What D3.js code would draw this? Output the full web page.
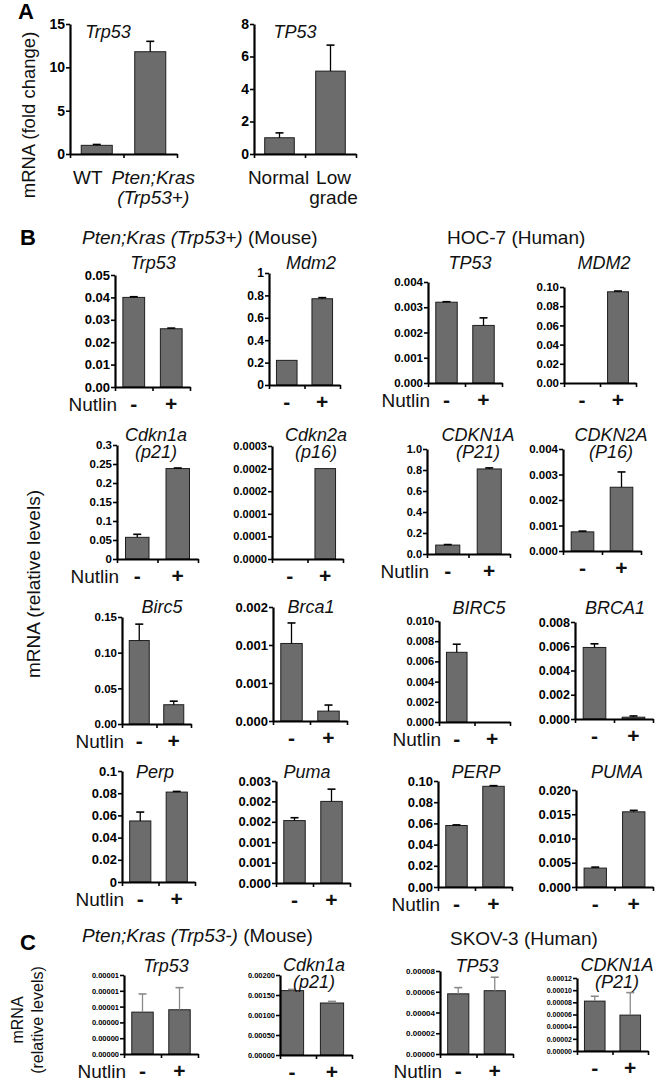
<!DOCTYPE html>
<html>
<head>
<meta charset="utf-8">
<script src="https://cdn.jsdelivr.net/npm/d3@7"></script>
<style>
  body { margin: 0; background: #ffffff; }
  svg { font-family: "Liberation Sans", Arial, sans-serif; }
  .axis path.domain { stroke: #000; stroke-width: 2.2px; }
  .axis .tick line { stroke: #000; stroke-width: 1.6px; }
  .axis text { font-weight: bold; fill: #000; }
  .bar { fill: #6c6c6c; stroke: #1e1e1e; stroke-width: 1px; }
  .title { font-style: italic; fill: #111; }
  .label { fill: #111; }
</style>
</head>
<body>
<div id="chart"></div>
<script>
// ---- panel A data ----
const aGenes = ['Trp53', 'TP53'];
const aGroups = [['WT', 'Pten;Kras|(Trp53+)'], ['Normal', 'Low|grade']];
const aMeans = [[1.0, 11.8], [1.0, 5.1]];
const aErrors = [[0.1, 1.2], [0.3, 1.6]];
const aTicks = [[0, 5, 10, 15], [0, 2, 4, 6, 8]];
const aTickLabels = [['0', '5', '10', '15'], ['0', '2', '4', '6', '8']];

// ---- panel B + C data (Nutlin -, +) ----
const treatments = ['-', '+'];
const genes = [
  'Trp53', 'Mdm2', 'TP53', 'MDM2',
  'Cdkn1a|(p21)', 'Cdkn2a|(p16)', 'CDKN1A|(P21)', 'CDKN2A|(P16)',
  'Birc5', 'Brca1', 'BIRC5', 'BRCA1',
  'Perp', 'Puma', 'PERP', 'PUMA',
  'Trp53', 'Cdkn1a|(p21)', 'TP53', 'CDKN1A|(P21)'
];
const means = [
  [0.0400, 0.0260], [0.22, 0.77], [0.00320, 0.00228], [0, 0.095],
  [0.057, 0.238], [0, 0.00020], [0.085, 0.81], [0.00075, 0.0025],
  [0.117, 0.027], [0.00102, 0.00013], [0.0069, 0], [0.0059, 0.00015],
  [0.055, 0.081], [0.00153, 0.00200], [0.058, 0.095], [0.0039, 0.0155],
  [0.0000053, 0.0000056], [0.00161, 0.00130], [0.000058, 0.000061], [0.000082, 0.000059]
];
const errors = [
  [0.0003, 0.0003], [0, 0.01], [0.00002, 0.0003], [0, 0.0008],
  [0.008, 0.0015], [0, 0], [0.005, 0.01], [0.00003, 0.0006],
  [0.023, 0.005], [0.00027, 0.00008], [0.0008, 0], [0.0003, 0.0001],
  [0.008, 0.0006], [0.00007, 0.0003], [0.0006, 0.0006], [0.0002, 0.0003],
  [0.0000023, 0.0000028], [0.00003, 0.00004], [0.000006, 0.000013], [0.000008, 0.000037]
];
const tickValues = [
  [0, 0.01, 0.02, 0.03, 0.04, 0.05], [0, 0.2, 0.4, 0.6, 0.8, 1], [0, 0.001, 0.002, 0.003, 0.004], [0, 0.02, 0.04, 0.06, 0.08, 0.10],
  [0, 0.05, 0.1, 0.15, 0.2, 0.25, 0.3], [0, 0.00005, 0.0001, 0.00015, 0.0002, 0.00025], [0, 0.2, 0.4, 0.6, 0.8, 1.0], [0, 0.001, 0.002, 0.003, 0.004],
  [0, 0.05, 0.10, 0.15], [0, 0.0005, 0.001, 0.0015], [0, 0.002, 0.004, 0.006, 0.008, 0.010], [0, 0.002, 0.004, 0.006, 0.008],
  [0, 0.02, 0.04, 0.06, 0.08, 0.1], [0, 0.0005, 0.001, 0.0015, 0.002, 0.0025], [0, 0.02, 0.04, 0.06, 0.08, 0.10], [0, 0.005, 0.010, 0.015, 0.020],
  [0, 0.000002, 0.000004, 0.000006, 0.000008, 0.00001], [0, 0.0005, 0.001, 0.0015, 0.002], [0, 0.00002, 0.00004, 0.00006, 0.00008], [0, 0.00002, 0.00004, 0.00006, 0.00008, 0.0001, 0.00012]
];
const tickLabels = [
  ['0.00', '0.01', '0.02', '0.03', '0.04', '0.05'], ['0', '0.2', '0.4', '0.6', '0.8', '1'], ['0.000', '0.001', '0.002', '0.003', '0.004'], ['0.00', '0.02', '0.04', '0.06', '0.08', '0.10'],
  ['0', '0.05', '0.1', '0.15', '0.2', '0.25', '0.3'], ['0.0000', '0.0001', '0.0001', '0.0002', '0.0002', '0.0003'], ['0.0', '0.2', '0.4', '0.6', '0.8', '1.0'], ['0.000', '0.001', '0.002', '0.003', '0.004'],
  ['0.00', '0.05', '0.10', '0.15'], ['0.000', '0.001', '0.001', '0.002'], ['0.000', '0.002', '0.004', '0.006', '0.008', '0.010'], ['0.000', '0.002', '0.004', '0.006', '0.008'],
  ['0', '0.02', '0.04', '0.06', '0.08', '0.1'], ['0.000', '0.001', '0.001', '0.002', '0.002', '0.003'], ['0.00', '0.02', '0.04', '0.06', '0.08', '0.10'], ['0.000', '0.005', '0.010', '0.015', '0.020'],
  ['0.00000', '0.00000', '0.00000', '0.00001', '0.00001', '0.00001'], ['0.00000', '0.00050', '0.00100', '0.00150', '0.00200'], ['0.00000', '0.00002', '0.00004', '0.00006', '0.00008'], ['0.00000', '0.00002', '0.00004', '0.00006', '0.00008', '0.00010', '0.00012']
];

const panelLetters = ['A', 'B', 'C'];
const groupHeaders = [['Pten;Kras (Trp53+)', ' (Mouse)'], ['', 'HOC-7 (Human)'], ['Pten;Kras (Trp53-)', ' (Mouse)'], ['', 'SKOV-3 (Human)']];
const treatmentName = 'Nutlin';

// ---- layout (pixel placement of each small chart) ----
const aLayout = [
  { x0: 70, x1: 177, yTop: 24, yBase: 154, tx: 108, ty: 32, fs: 14, italic: [false, true], dx: [-9, 3] },
  { x0: 254, x1: 356, yTop: 24, yBase: 154, tx: 295, ty: 32, fs: 14, italic: [false, false], dx: [-1, 3] }
];
const layout = [
  { x0: 115, x1: 190, yTop: 275, yBase: 387, tx: 153, ty: 263, fs: 13, nutlin: true },
  { x0: 269, x1: 340, yTop: 273, yBase: 385, tx: 311, ty: 263, fs: 12 },
  { x0: 428, x1: 502, yTop: 282, yBase: 383, tx: 470, ty: 263, fs: 11.5, nutlin: true },
  { x0: 564, x1: 636, yTop: 287, yBase: 383, tx: 604, ty: 263, fs: 11.5 },

  { x0: 117, x1: 198, yTop: 445, yBase: 559, tx: 156, ty: 435, fs: 11.5, nutlin: true },
  { x0: 272, x1: 343, yTop: 446, yBase: 559, tx: 316, ty: 435, fs: 11 },
  { x0: 427, x1: 510, yTop: 449, yBase: 554, tx: 478, ty: 435, fs: 11, nutlin: true },
  { x0: 563, x1: 641, yTop: 449, yBase: 551, tx: 611, ty: 435, fs: 11.5 },

  { x0: 122, x1: 191, yTop: 617, yBase: 724, tx: 162, ty: 607, fs: 11.5, nutlin: true },
  { x0: 273, x1: 347, yTop: 607, yBase: 721, tx: 311, ty: 607, fs: 13 },
  { x0: 439, x1: 510, yTop: 621, yBase: 722, tx: 479, ty: 608, fs: 11, nutlin: true },
  { x0: 575, x1: 653, yTop: 622, yBase: 719, tx: 615, ty: 608, fs: 12.5 },

  { x0: 122, x1: 195, yTop: 771, yBase: 882, tx: 155, ty: 772, fs: 13, nutlin: true },
  { x0: 276, x1: 350, yTop: 781, yBase: 883, tx: 307, ty: 772, fs: 13 },
  { x0: 438, x1: 512, yTop: 781, yBase: 887, tx: 476, ty: 772, fs: 13, nutlin: true },
  { x0: 576, x1: 653, yTop: 790, yBase: 887, tx: 617, ty: 772, fs: 13 },

  { x0: 124, x1: 198, yTop: 975, yBase: 1054, tx: 166, ty: 966, fs: 7.5, nutlin: true, err: '#8a8a8a' },
  { x0: 280, x1: 352, b0: 272, yTop: 975, yBase: 1055, tx: 314, ty: 965, fs: 7.5, err: '#8a8a8a' },
  { x0: 440, x1: 513, yTop: 971, yBase: 1054, tx: 477, ty: 966, fs: 8, nutlin: true, err: '#8a8a8a' },
  { x0: 577, x1: 648, yTop: 978, yBase: 1051, tx: 617, ty: 965, fs: 7, err: '#8a8a8a' }
];

const svg = d3.select('#chart')
  .append('svg')
  .attr('width', 660)
  .attr('height', 1090);

svg.append('rect').attr('width', 660).attr('height', 1090).attr('fill', '#ffffff');

// one small bar chart with upward error bars and its axes
function drawChart(L, vals, errs, ticks, labels, title) {
  const xBand = d3.scaleBand()
    .domain([0, 1])
    .range([L.b0 !== undefined ? L.b0 : L.x0, L.x1])
    .paddingInner(0.42)
    .paddingOuter(0.21);
  const yScale = d3.scaleLinear().domain([0, ticks[ticks.length - 1]]).range([L.yBase, L.yTop]);
  const g = svg.append('g');

  // bars (a zero value draws nothing)
  g.selectAll('rect.bar')
    .data(vals.map((v, i) => ({ v, i })).filter(d => d.v > 0))
    .enter()
    .append('rect')
    .attr('class', 'bar')
    .attr('x', d => xBand(d.i))
    .attr('y', d => yScale(d.v))
    .attr('width', xBand.bandwidth())
    .attr('height', d => L.yBase - yScale(d.v));

  // error bars, upper side only
  vals.forEach((v, i) => {
    if (!errs[i]) return;
    const cx = xBand(i) + xBand.bandwidth() / 2;
    const top = yScale(v + errs[i]);
    const col = L.err || '#000';
    g.append('line').attr('x1', cx).attr('x2', cx).attr('y1', yScale(v)).attr('y2', top)
      .attr('stroke', col).attr('stroke-width', 1.3);
    g.append('line').attr('x1', cx - 4).attr('x2', cx + 4).attr('y1', top).attr('y2', top)
      .attr('stroke', col).attr('stroke-width', 1.6);
  });

  // Add the Y Axis
  g.append('g')
    .attr('class', 'y axis')
    .attr('transform', `translate(${L.x0},0)`)
    .call(d3.axisLeft(yScale).tickValues(ticks).tickFormat((d, i) => labels[i]).tickSize(4).tickSizeOuter(0).tickPadding(1))
    .attr('font-family', null)
    .attr('font-size', L.fs);

  // Add the X Axis (tick marks only)
  g.append('g')
    .attr('class', 'x axis')
    .attr('transform', `translate(0,${L.yBase})`)
    .call(d3.axisBottom(d3.scaleLinear().domain([0, 2]).range([L.x0, L.x1])).tickValues([0, 1, 2]).tickFormat('').tickSize(4).tickSizeOuter(0));

  // gene title
  title.split('|').forEach((t, k) => {
    g.append('text').attr('class', 'title')
      .attr('x', L.tx).attr('y', L.ty + k * 17)
      .attr('text-anchor', 'middle').attr('dominant-baseline', 'central')
      .attr('font-size', 18).text(t);
  });

  return xBand;
}

// ---- panel A ----
aGenes.forEach((gene, c) => {
  const L = aLayout[c];
  const xBand = drawChart(L, aMeans[c], aErrors[c], aTicks[c], aTickLabels[c], gene);
  aGroups[c].forEach((grp, i) => {
    grp.split('|').forEach((t, k) => {
      svg.append('text').attr('class', 'label')
        .attr('x', xBand(i) + xBand.bandwidth() / 2 + L.dx[i])
        .attr('y', L.yBase + 30 + k * 20)
        .attr('text-anchor', 'middle')
        .attr('font-size', 19)
        .style('font-style', L.italic[i] ? 'italic' : 'normal')
        .text(t);
    });
  });
});

// ---- panels B and C ----
genes.forEach((gene, c) => {
  const L = layout[c];
  const xBand = drawChart(L, means[c], errors[c], tickValues[c], tickLabels[c], gene);
  treatments.forEach((t, i) => {
    svg.append('text').attr('class', 'label')
      .attr('x', xBand(i) + xBand.bandwidth() / 2)
      .attr('y', L.yBase + 24)
      .attr('text-anchor', 'middle')
      .attr('font-size', 21)
      .attr('font-weight', 'bold')
      .text(t);
  });
  if (L.nutlin) {
    svg.append('text').attr('class', 'label')
      .attr('x', L.x0 + 2)
      .attr('y', L.yBase + 24)
      .attr('text-anchor', 'end')
      .attr('font-size', 19)
      .text(treatmentName);
  }
});

// panel letters
[[18, 19], [20, 245], [20, 950]].forEach((p, i) => {
  svg.append('text').attr('x', p[0]).attr('y', p[1])
    .attr('font-size', 22).attr('font-weight', 'bold').text(panelLetters[i]);
});

// group headers
[[82, 244], [447, 244], [82, 942], [450, 945]].forEach((p, i) => {
  const t = svg.append('text').attr('class', 'label').attr('x', p[0]).attr('y', p[1]).attr('font-size', 19);
  t.append('tspan').style('font-style', 'italic').text(groupHeaders[i][0]);
  t.append('tspan').text(groupHeaders[i][1]);
});

// y axis titles
const yTitle = (x, y, size, text) => svg.append('text').attr('class', 'label')
  .attr('transform', `translate(${x},${y}) rotate(-90)`)
  .attr('text-anchor', 'middle').attr('dominant-baseline', 'central')
  .attr('font-size', size).text(text);
yTitle(28, 115, 18.5, 'mRNA (fold change)');
yTitle(33, 584, 19, 'mRNA (relative levels)');
yTitle(17, 1020, 16, 'mRNA');
yTitle(37, 1020, 16, '(relative levels)');
</script>
</body>
</html>
